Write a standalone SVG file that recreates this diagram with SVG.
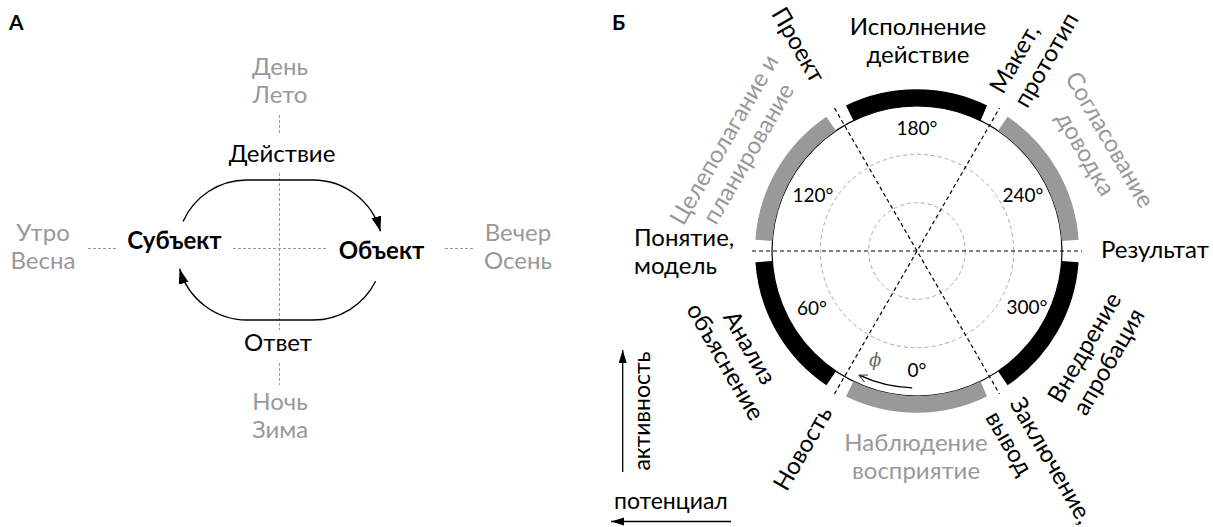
<svg xmlns="http://www.w3.org/2000/svg" width="1213" height="527" viewBox="0 0 1213 527">
<style>
text{font-family:Lato,"Noto Sans",sans-serif;font-size:24px;fill:#000}
.g{fill:#999}
.b{font-weight:bold}
.t{font-size:21px}
.m{text-anchor:middle}
.e{text-anchor:end}
.ax{font-size:23px}
.deg{font-size:19px;text-anchor:middle}
.gd{stroke:#999;stroke-width:1;stroke-dasharray:3 2;fill:none}
.kd{stroke:#000;stroke-width:1.2;stroke-dasharray:4 3;fill:none}
.cd{stroke:#aaa;stroke-width:1;stroke-dasharray:4 3;fill:none}
.ln{stroke:#000;stroke-width:1.4;fill:none}
.bk{fill:#000}
.gr{fill:#999}
</style>
<defs>
<marker id="ah" markerUnits="userSpaceOnUse" markerWidth="16" markerHeight="12" refX="15" refY="5" orient="auto"><path d="M0,0 L15,5 L0,10 z" fill="#000"/></marker>
<marker id="ah2" markerUnits="userSpaceOnUse" markerWidth="14" markerHeight="10" refX="13" refY="4" orient="auto"><path d="M0,0 L13,4 L0,8 z" fill="#000"/></marker>
<marker id="oh" markerUnits="userSpaceOnUse" markerWidth="10" markerHeight="10" refX="8" refY="4" orient="auto"><path d="M0,0 L8,4 L0,8" fill="none" stroke="#333" stroke-width="1"/></marker>
</defs>

<!-- Panel A -->
<text class="b t" x="9" y="30">А</text>
<g id="axesA">
<line class="gd" x1="279.5" y1="115" x2="279.5" y2="135"/>
<line class="gd" x1="279.5" y1="173" x2="279.5" y2="330"/>
<line class="gd" x1="279.5" y1="363" x2="279.5" y2="385"/>
<line class="gd" x1="88" y1="248.5" x2="117" y2="248.5"/>
<line class="gd" x1="233" y1="248.5" x2="328" y2="248.5"/>
<line class="gd" x1="445" y1="248.5" x2="475" y2="248.5"/>
</g>
<g id="connectorsA">
<path class="ln" d="M183.05,221.5 A70,70 0 0 1 247,180 L313,180 A70,70 0 0 1 380.4,231.3" marker-end="url(#ah)"/>
<path class="ln" d="M375.6,281.3 A70,70 0 0 1 313,320 L247,320 A70,70 0 0 1 179.6,268.8" marker-end="url(#ah)"/>
</g>
<g id="subject"><text class="b m" x="174.5" y="249">Субъект</text></g>
<g id="object"><text class="b m" x="381.5" y="259">Объект</text></g>
<g id="action"><text class="m" x="282" y="162">Действие</text></g>
<g id="answer"><text class="m" x="278" y="351">Ответ</text></g>
<g id="day"><text class="g m" x="280" y="74.5">День</text><text class="g m" x="280" y="102.5">Лето</text></g>
<g id="night"><text class="g m" x="280" y="410">Ночь</text><text class="g m" x="280" y="438">Зима</text></g>
<g id="morning"><text class="g m" x="43" y="240.5">Утро</text><text class="g m" x="43" y="268.5">Весна</text></g>
<g id="evening"><text class="g m" x="518" y="240.5">Вечер</text><text class="g m" x="518" y="268.5">Осень</text></g>

<!-- Panel B -->
<text class="b t" x="612" y="30">Б</text>
<g id="wheel">
<circle class="cd" cx="917" cy="251" r="48.3"/>
<circle class="cd" cx="917" cy="251" r="96.7"/>
<circle cx="917" cy="251" r="145" fill="none" stroke="#000" stroke-width="1.2"/>
<path class="gr" d="M980.57,381.33 L987.02,396.61 A162,162 0 0 1 845.98,396.61 L853.43,381.33 A145,145 0 0 0 980.57,381.33 Z"/>
<path class="bk" d="M835.92,371.21 L826.41,385.30 A162,162 0 0 1 755.39,262.31 L772.35,261.12 A145,145 0 0 0 835.92,371.21 Z"/>
<path class="gr" d="M772.35,240.88 L755.39,239.69 A162,162 0 0 1 826.41,116.70 L835.92,130.79 A145,145 0 0 0 772.35,240.88 Z"/>
<path class="bk" d="M853.43,120.67 L845.98,105.39 A162,162 0 0 1 987.02,105.39 L980.57,120.67 A145,145 0 0 0 853.43,120.67 Z"/>
<path class="gr" d="M998.08,130.79 L1007.59,116.70 A162,162 0 0 1 1078.61,239.69 L1061.65,240.88 A145,145 0 0 0 998.08,130.79 Z"/>
<path class="bk" d="M1061.65,261.12 L1078.61,262.31 A162,162 0 0 1 1007.59,385.30 L998.08,371.21 A145,145 0 0 0 1061.65,261.12 Z"/>
<line class="kd" x1="752" y1="251" x2="1082" y2="251"/>
<line class="kd" x1="834.5" y1="393.9" x2="999.5" y2="108.1"/>
<line class="kd" x1="834.5" y1="108.1" x2="999.5" y2="393.9"/>
</g>
<g id="degrees">
<text class="deg" x="917" y="377">0°</text>
<text class="deg" x="812" y="315">60°</text>
<text class="deg" x="813" y="202">120°</text>
<text class="deg" x="917" y="135">180°</text>
<text class="deg" x="1023" y="202">240°</text>
<text class="deg" x="1027" y="314">300°</text>
</g>
<g id="connectorsB">
<path d="M912.2,387.9 A137,137 0 0 1 859.1,375.2" fill="none" stroke="#000" stroke-width="1.4" marker-end="url(#oh)"/>
<line x1="622.7" y1="472" x2="622.7" y2="350" stroke="#000" stroke-width="1.3" marker-end="url(#ah2)"/>
<line x1="731" y1="521.5" x2="611" y2="521.5" stroke="#000" stroke-width="1.3" marker-end="url(#ah2)"/>
</g>
<text x="869" y="366" style="font-family:'DejaVu Serif',serif;font-style:italic;font-size:18px;fill:#666">ϕ</text>

<g id="execution"><text class="m" x="918" y="35.2">Исполнение</text><text class="m" x="918" y="63.2">действие</text></g>
<g id="observation"><text class="g m" x="916" y="450.5">Наблюдение</text><text class="g m" x="916" y="478.5">восприятие</text></g>
<g id="analysis" transform="translate(736.9,355) rotate(60)"><text class="m" x="0" y="-6.5">Анализ</text><text class="m" x="0" y="21.5">объяснение</text></g>
<g id="planning" transform="translate(736.9,147) rotate(-60)"><text class="g m" x="0" y="-6.5">Целеполагание и</text><text class="g m" x="0" y="21.5">планирование</text></g>
<g id="agreement" transform="translate(1097.1,147) rotate(60)"><text class="g m" x="0" y="-6.5">Согласование</text><text class="g m" x="0" y="21.5">доводка</text></g>
<g id="implementation" transform="translate(1097.1,355) rotate(-60)"><text class="m" x="0" y="-6.5">Внедрение</text><text class="m" x="0" y="21.5">апробация</text></g>

<g id="concept"><text x="634" y="245.5">Понятие,</text><text x="634" y="273.5">модель</text></g>
<g id="result"><text x="1101" y="258">Результат</text></g>
<g id="project" transform="translate(818.5,80.4) rotate(60)"><text class="e" x="0" y="8">Проект</text></g>
<g id="novelty" transform="translate(826,408.6) rotate(-60)"><text class="e" x="0" y="8">Новость</text></g>
<g id="prototype" transform="translate(1006,96.9) rotate(-60)"><text x="0" y="-3.5">Макет,</text><text x="0" y="24.5">прототип</text></g>
<g id="conclusion" transform="translate(1006,405.1) rotate(60)"><text x="0" y="-3.5">Заключение,</text><text x="0" y="24.5">вывод</text></g>

<g id="activity" transform="translate(650,411) rotate(-90)"><text class="m ax" x="0" y="0">активность</text></g>
<g id="potential"><text class="ax" x="614" y="509">потенциал</text></g>
</svg>
